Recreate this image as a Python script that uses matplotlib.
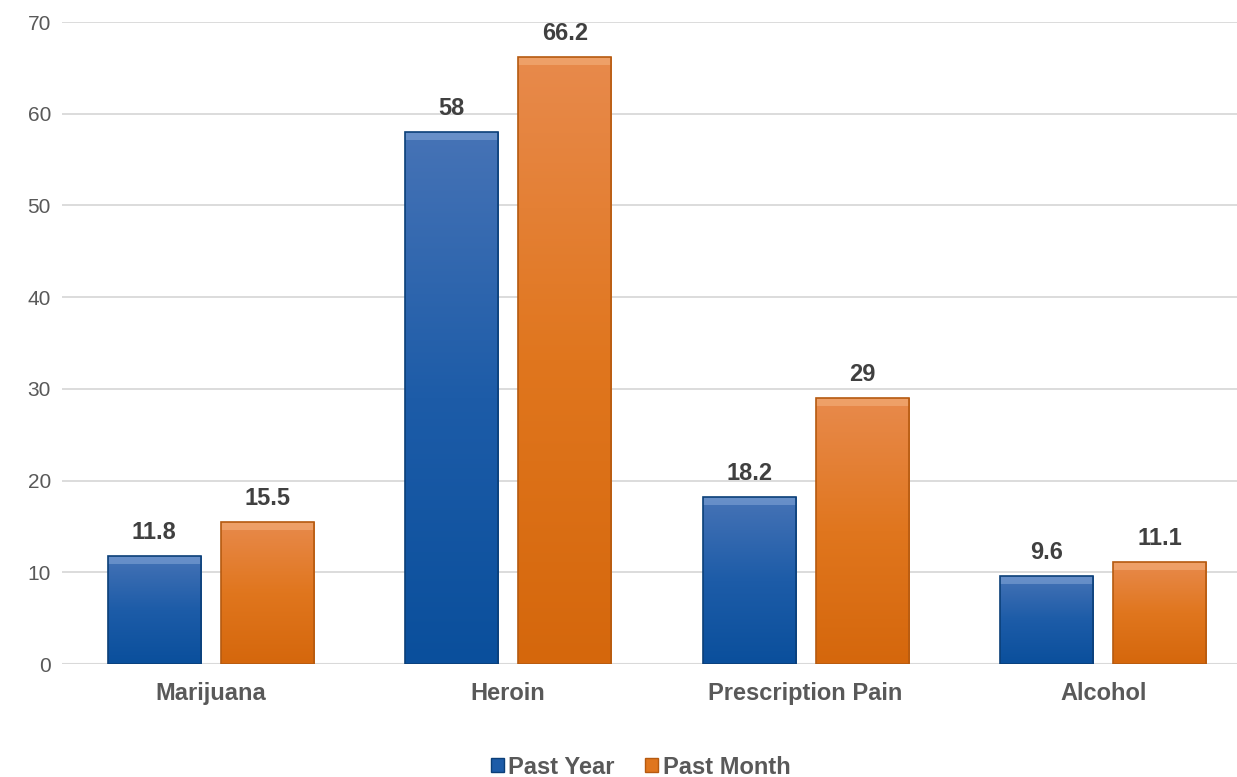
import numpy as np
import matplotlib.pyplot as plt
from matplotlib.patches import Rectangle
from matplotlib.colors import LinearSegmentedColormap

plt.rcParams['font.family'] = ['Liberation Sans', 'DejaVu Sans']

categories = ['Marijuana', 'Heroin', 'Prescription Pain', 'Alcohol']
past_year = [11.8, 58, 18.2, 9.6]
past_month = [15.5, 66.2, 29, 11.1]
series_names = ['Past Year', 'Past Month']

blue_cmap = LinearSegmentedColormap.from_list('b', ['#0a4f9c', '#1d5ca8', '#4673b6'])
orange_cmap = LinearSegmentedColormap.from_list('o', ['#d5670c', '#e0761e', '#e88a4c'])

fig = plt.figure(figsize=(12.37, 7.77), dpi=100)
ax = fig.add_axes([62 / 1237, 1 - 664 / 777, 1175 / 1237, (664 - 22) / 777])

x = np.arange(len(categories))
w = 0.313
off = 0.19
grad = np.linspace(0, 1, 256).reshape(-1, 1)


def grad_bar(xc, h, cmap, edge, light):
    x0 = xc - w / 2
    im = ax.imshow(grad, cmap=cmap, origin='lower', aspect='auto',
                   extent=[x0, x0 + w, 0, h], zorder=2)
    r = Rectangle((x0, 0), w, h, facecolor='none', edgecolor=edge, lw=1.2, zorder=3)
    ax.add_patch(r)
    im.set_clip_path(r)
    # bevel highlight along the top
    ax.add_patch(Rectangle((x0, h - 0.9), w, 0.9, facecolor=light, edgecolor='none',
                           alpha=0.6, zorder=2.5))
    ax.text(xc, h + 1.3, f'{h:g}', ha='center', va='bottom', fontsize=17,
            fontweight='bold', color='#404040', zorder=4)


for i in range(len(categories)):
    grad_bar(x[i] - off, past_year[i], blue_cmap, '#0b3f78', '#7fa3d6')
    grad_bar(x[i] + off, past_month[i], orange_cmap, '#b55a10', '#f3b07c')

ax.set_xlim(-0.5, 3.45)
ax.set_ylim(0, 70)
ax.set_yticks(range(0, 71, 10))
ax.yaxis.grid(True, color='#d9d9d9', lw=1.3, zorder=0)
ax.set_axisbelow(True)
for s in ax.spines.values():
    s.set_visible(False)
ax.axhline(0, color='#d9d9d9', lw=1.5, zorder=1)
ax.set_xticks(x)
ax.set_xticklabels(categories, fontsize=17, fontweight='bold', color='#595959')
ax.tick_params(axis='x', length=0, pad=13)
ax.tick_params(axis='y', length=0, pad=8, labelsize=15, labelcolor='#595959')

handles = [Rectangle((0, 0), 1, 1, facecolor='#1d5ca8', edgecolor='#0b3f78'),
           Rectangle((0, 0), 1, 1, facecolor='#e0761e', edgecolor='#b55a10')]
leg = fig.legend(handles, series_names, loc='center', bbox_to_anchor=(0.518, 1 - 767 / 777),
                 ncol=2, frameon=False, handlelength=0.55, handleheight=0.55,
                 handletextpad=0.2, columnspacing=1.3,
                 prop={'size': 17, 'weight': 'bold'})
for t in leg.get_texts():
    t.set_color('#595959')

fig.savefig('out.png', dpi=100)
